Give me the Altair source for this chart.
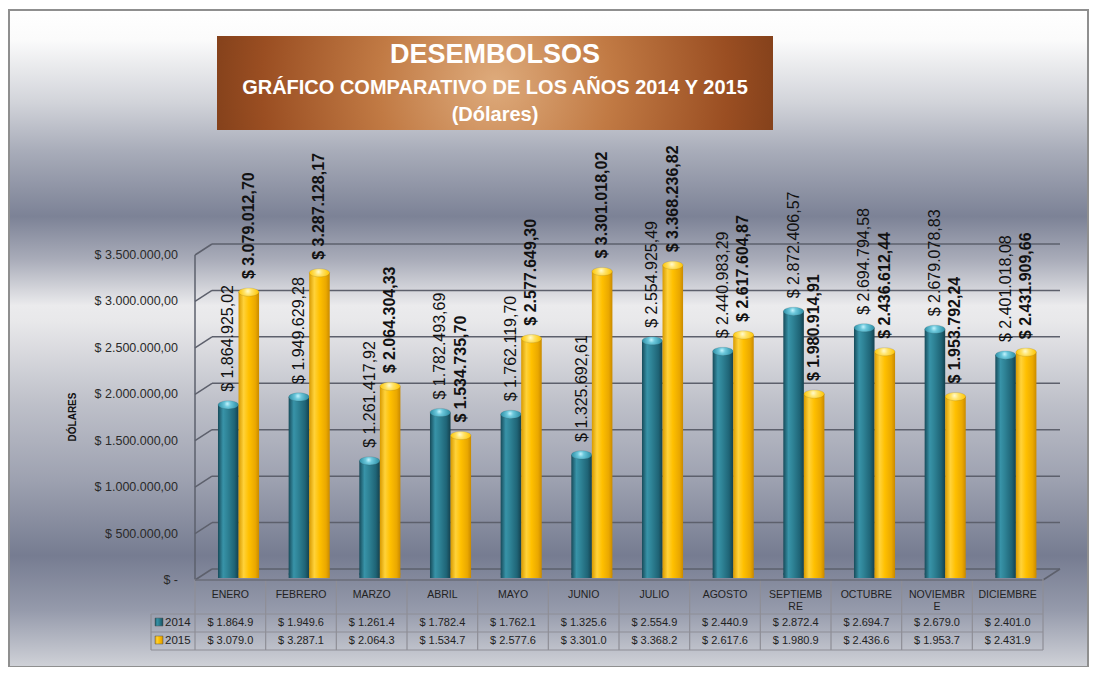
import altair as alt
import pandas as pd

# ---------------- data ----------------
months = ["ENERO", "FEBRERO", "MARZO", "ABRIL", "MAYO", "JUNIO", "JULIO",
          "AGOSTO", "SEPTIEMBRE", "OCTUBRE", "NOVIEMBRE", "DICIEMBRE"]
month_headers = ["ENERO", "FEBRERO", "MARZO", "ABRIL", "MAYO", "JUNIO", "JULIO",
                 "AGOSTO", "SEPTIEMB\nRE", "OCTUBRE", "NOVIEMBR\nE", "DICIEMBRE"]
years = ["2014", "2015"]
v2014 = [1864925.02, 1949629.28, 1261417.92, 1782493.69, 1762119.70, 1325692.61,
         2554925.49, 2440983.29, 2872406.57, 2694794.58, 2679078.83, 2401018.08]
v2015 = [3079012.70, 3287128.17, 2064304.33, 1534735.70, 2577649.30, 3301018.02,
         3368236.82, 2617604.87, 1980914.91, 2436612.44, 1953792.24, 2431909.66]
y_ticks = [0, 500000, 1000000, 1500000, 2000000, 2500000, 3000000, 3500000]
y_tick_labels = ["$ -", "$ 500.000,00", "$ 1.000.000,00", "$ 1.500.000,00",
                 "$ 2.000.000,00", "$ 2.500.000,00", "$ 3.000.000,00", "$ 3.500.000,00"]
title_lines = ["DESEMBOLSOS", "GRÁFICO COMPARATIVO DE LOS AÑOS 2014 Y 2015", "(Dólares)"]
axis_title = "DÓLARES"


def eu(v):
    s = f"{v:,.2f}"
    return "$ " + s.replace(",", "#").replace(".", ",").replace("#", ".")


def short(v):
    t = int(v // 100)
    return "$ " + f"{t // 10:,}".replace(",", ".") + "." + str(t % 10)


rows = []
for yr, vals in zip(years, [v2014, v2015]):
    for m, h, v in zip(months, month_headers, vals):
        rows.append({"month": m, "header": h, "year": yr, "value": v,
                     "label": eu(v), "short": short(v)})
df = pd.DataFrame(rows)
grid_df = pd.DataFrame({"v": y_ticks, "tl": y_tick_labels})
one = pd.DataFrame({"a": [0]})

W, H = 848, 325
PL, PT, PR, PB = 187, 241, 46, 93
YMAX = 3500000
FONT = "Liberation Sans"


def lg(stops, vertical=False):
    return alt.LinearGradient(
        gradient="linear",
        stops=[alt.GradientStop(offset=o, color=c) for o, c in stops],
        x1=0, y1=0, x2=0 if vertical else 1, y2=1 if vertical else 0)


def rg(stops, cx=0.5, cy=0.5):
    return alt.RadialGradient(
        gradient="radial",
        stops=[alt.GradientStop(offset=o, color=c) for o, c in stops],
        x1=cx, y1=cy, x2=0.5, y2=0.5, r1=0, r2=0.6)


bg_grad = lg([(0.0, "#ffffff"), (0.045, "#fbfbfb"), (0.14, "#d2d4da"), (0.215, "#a8acb9"),
              (0.314, "#7c8296"), (0.38, "#a9acb9"), (0.45, "#ebebed"), (0.475, "#e8e8ea"),
              (0.595, "#bfc1ca"), (0.716, "#9da1b0"), (0.83, "#767c91"), (0.913, "#959aab"),
              (1.0, "#d0d2d8")], vertical=True)
title_grad = rg([(0.0, "#deab7c"), (0.35, "#c17a44"), (0.7, "#9a4e22"), (1.0, "#6e3414")])
teal_grad = lg([(0.0, "#174b5a"), (0.25, "#3893a8"), (0.45, "#2f8497"), (0.8, "#1f6476"), (1.0, "#14414e")])
gold_grad = lg([(0.0, "#d89a00"), (0.25, "#ffd23a"), (0.5, "#ffc000"), (0.82, "#eaa800"), (1.0, "#c98a00")])
teal_cap = rg([(0.0, "#c8f6ff"), (0.25, "#6cc8dc"), (0.7, "#3a9ab0"), (1.0, "#2a7e92")], cx=0.45, cy=0.45)
gold_cap = rg([(0.0, "#fffbd0"), (0.3, "#ffe36a"), (0.7, "#ffcc1a"), (1.0, "#f0b000")], cx=0.45, cy=0.45)
ELLIPSE = "M -1 0 A 1 0.4 0 1 1 1 0 A 1 0.4 0 1 1 -1 0 Z"

yscale = alt.Scale(domain=[0, YMAX], nice=False)
xscale = alt.Scale(domain=months, paddingInner=0, paddingOuter=0)

# ---------------- decorative background & title ----------------
bg = alt.Chart(one).mark_rect(fill=bg_grad, stroke="#8f8f8f", strokeWidth=2).encode(
    x=alt.value(-186), x2=alt.value(893), y=alt.value(-239), y2=alt.value(418))
title_box = alt.Chart(one).mark_rect(fill=title_grad).encode(
    x=alt.value(22), x2=alt.value(578), y=alt.value(-213), y2=alt.value(-119))
t1 = alt.Chart(one).mark_text(text=title_lines[0], font=FONT, fontSize=27, fontWeight="bold",
                              color="white", baseline="middle").encode(x=alt.value(300), y=alt.value(-194))
t2 = alt.Chart(one).mark_text(text=title_lines[1], font=FONT, fontSize=20, fontWeight="bold",
                              color="white", baseline="middle").encode(x=alt.value(300), y=alt.value(-161))
t3 = alt.Chart(one).mark_text(text=title_lines[2], font=FONT, fontSize=20, fontWeight="bold",
                              color="white", baseline="middle").encode(x=alt.value(300), y=alt.value(-134))
ytitle = alt.Chart(one).mark_text(text=axis_title, font=FONT, fontSize=10, fontWeight="bold",
                                  angle=270, color="#111", baseline="middle").encode(
    x=alt.value(-122), y=alt.value(168))

# ---------------- 3D wall grid ----------------
yq = alt.Y("v:Q", scale=yscale, axis=None)
GC = "#5d606c"
grid_back = alt.Chart(grid_df).mark_rule(color=GC, strokeWidth=1.5, yOffset=-5).encode(
    y=yq, x=alt.value(17), x2=alt.value(865))
grid_slant = alt.Chart(grid_df).mark_rule(color=GC, strokeWidth=1.5, yOffset=6, y2Offset=-5).encode(
    y=yq, y2=alt.Y2("v:Q"), x=alt.value(0), x2=alt.value(17))
axis_df = pd.DataFrame({"v": [0], "v2": [YMAX]})
front_axis = alt.Chart(axis_df).mark_rule(color=GC, strokeWidth=1.5, yOffset=6, y2Offset=6).encode(
    x=alt.value(0), y=yq, y2=alt.Y2("v2:Q"))
floor_front = alt.Chart(axis_df).mark_rule(color="#6a6d78", strokeWidth=1.5, yOffset=6).encode(
    y=yq, x=alt.value(0), x2=alt.value(W))
floor_side = alt.Chart(axis_df).mark_rule(color=GC, strokeWidth=1.5, yOffset=6, y2Offset=-5).encode(
    y=yq, y2=alt.Y2("v:Q"), x=alt.value(W), x2=alt.value(W + 17))
tick_labels = alt.Chart(grid_df).mark_text(font=FONT, fontSize=12.5, color="#2a2a2a", align="right",
                                           baseline="middle", dy=6).encode(
    y=yq, x=alt.value(-17), text="tl:N")

# ---------------- bars ----------------
xb = alt.X("month:N", sort=months, axis=None, scale=xscale)
xo = alt.XOffset("year:N", scale=alt.Scale(domain=years, paddingInner=0, paddingOuter=0.72, align=0.777))
yv = alt.Y("value:Q", scale=yscale, axis=None)


def bar_layers(yr, body, cap, weight):
    base = alt.Chart(df).transform_filter(alt.datum.year == yr).transform_calculate(zero="0")
    bottom = base.mark_point(shape=ELLIPSE, size=420, filled=True, fill=body, opacity=1,
                             strokeWidth=0).encode(x=xb, xOffset=xo, y=alt.Y("zero:Q", scale=yscale, axis=None))
    body_bar = base.mark_bar(fill=body, yOffset=4, strokeWidth=0).encode(x=xb, xOffset=xo, y=yv)
    top = base.mark_point(shape=ELLIPSE, size=420, filled=True, fill=cap, opacity=1,
                          stroke="#333333", strokeOpacity=0.25, strokeWidth=0.5, yOffset=4).encode(
        x=xb, xOffset=xo, y=yv)
    lab = base.mark_text(font=FONT, fontSize=16, fontWeight=weight, angle=270, align="left",
                         baseline="middle", dx=9, color="#111").encode(x=xb, xOffset=xo, y=yv, text="label:N")
    return [bottom, body_bar, top, lab]


bar_list = bar_layers("2014", teal_grad, teal_cap, "normal") + bar_layers("2015", gold_grad, gold_cap, "bold")

# ---------------- data table ----------------
tb = alt.Chart(df)
LC = "#8e8e96"
head_txt = tb.transform_filter(alt.datum.year == "2014").mark_text(
    font=FONT, fontSize=10.5, color="#222", baseline="top", lineBreak="\n", lineHeight=12).encode(
    x=xb, y=alt.value(341), text="header:N")
r1_txt = tb.transform_filter(alt.datum.year == "2014").mark_text(
    font=FONT, fontSize=11, color="#222", baseline="middle").encode(x=xb, y=alt.value(374), text="short:N")
r2_txt = tb.transform_filter(alt.datum.year == "2015").mark_text(
    font=FONT, fontSize=11, color="#222", baseline="middle").encode(x=xb, y=alt.value(392), text="short:N")
vlines = tb.transform_filter(alt.datum.year == "2014").mark_rule(color=LC, strokeWidth=1.2).encode(
    x=alt.X("month:N", sort=months, axis=None, bandPosition=0, scale=xscale),
    y=alt.value(330), y2=alt.value(401))
vline_end = alt.Chart(one).mark_rule(color=LC, strokeWidth=1.2).encode(
    x=alt.value(W), y=alt.value(330), y2=alt.value(401))
vline_left = alt.Chart(one).mark_rule(color=LC, strokeWidth=1.2).encode(
    x=alt.value(-44), y=alt.value(365), y2=alt.value(401))
hl = [alt.Chart(one).mark_rule(color=LC, strokeWidth=1.2).encode(
    x=alt.value(-44), x2=alt.value(W), y=alt.value(yy)) for yy in (365, 383, 401)]
sw1 = alt.Chart(one).mark_point(shape="square", size=64, filled=True, fill=teal_grad, opacity=1,
                                stroke="#555", strokeWidth=0.5).encode(x=alt.value(-36), y=alt.value(373))
sw2 = alt.Chart(one).mark_point(shape="square", size=64, filled=True, fill=gold_grad, opacity=1,
                                stroke="#555", strokeWidth=0.5).encode(x=alt.value(-36), y=alt.value(391))
yl1 = alt.Chart(one).mark_text(text=years[0], font=FONT, fontSize=11.5, color="#222", align="left",
                               baseline="middle").encode(x=alt.value(-30), y=alt.value(374))
yl2 = alt.Chart(one).mark_text(text=years[1], font=FONT, fontSize=11.5, color="#222", align="left",
                               baseline="middle").encode(x=alt.value(-30), y=alt.value(392))

chart = alt.layer(
    bg, title_box, t1, t2, t3, ytitle,
    grid_back, grid_slant, front_axis, floor_side, tick_labels,
    *bar_list,
    vlines, head_txt, r1_txt, r2_txt, floor_front, vline_end, vline_left, *hl, sw1, sw2, yl1, yl2
).properties(
    width=W, height=H, autosize="none",
    padding={"left": PL, "top": PT, "right": PR, "bottom": PB}
).configure_view(stroke=None, fill=None)

chart.save("out.html", embed_options={"renderer": "svg", "actions": False})
